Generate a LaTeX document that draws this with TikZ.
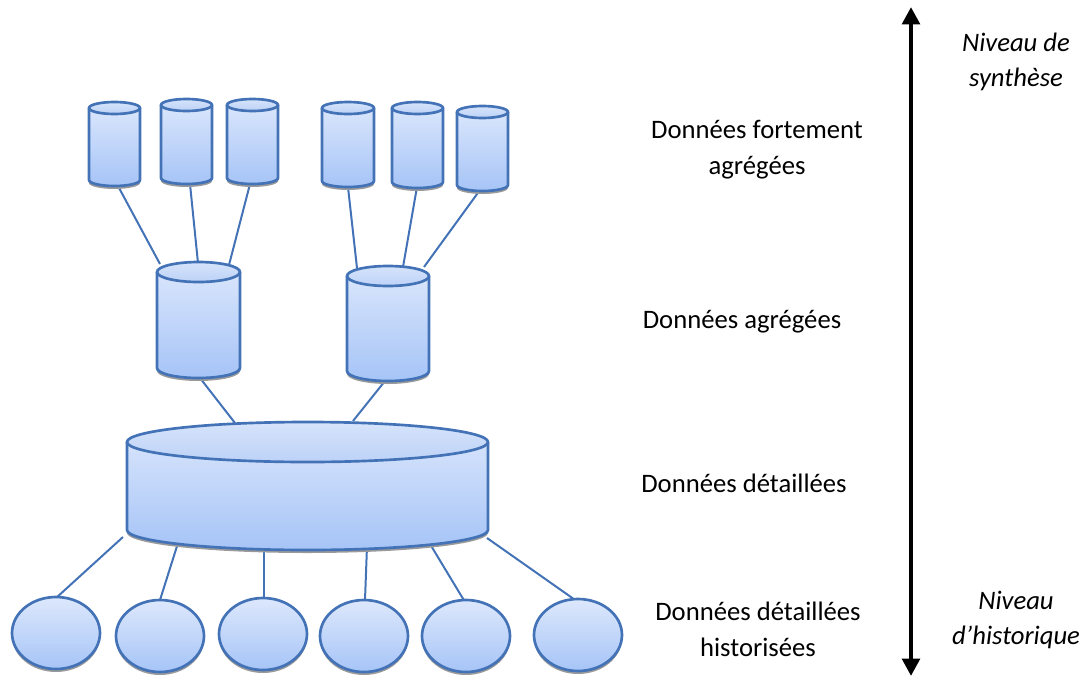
\documentclass[tikz,border=0pt]{standalone}
\usepackage{fontspec}
\setmainfont{Carlito}
\usetikzlibrary{arrows.meta}
\definecolor{dbline}{HTML}{4373B6}
\definecolor{dbtop}{HTML}{DDE8FC}
\definecolor{dbbot}{HTML}{A6C4F7}
\definecolor{dbcap}{HTML}{BCD2F7}
\definecolor{dbshadow}{HTML}{9A9A9A}
\tikzset{
  dbstroke/.style={draw=dbline,line width=2pt},
  conn/.style={draw=dbline,line width=1.5pt},
  lbl/.style={font=\fontsize{20}{27}\selectfont,align=center,inner sep=0pt},
  lvl/.style={font=\fontsize{20}{26}\selectfont\itshape,align=center,inner sep=0pt},
}
% L R ytop-center ybottom ry
\newcommand\dbcyl[5]{%
  \pgfmathsetmacro\rxx{(#2-#1)/2}%
  \fill[dbshadow] (#1,{-#4-3}) arc[start angle=180,end angle=360,x radius=\rxx,y radius=#5] -- (#2,{-#4+2}) -- (#1,{-#4+2}) -- cycle;
  \shade[top color=dbtop,bottom color=dbbot] (#1,-#3) -- (#1,-#4) arc[start angle=180,end angle=360,x radius=\rxx,y radius=#5] -- (#2,-#3) arc[start angle=0,end angle=180,x radius=\rxx,y radius=#5] -- cycle;
  \draw[dbstroke] (#1,-#3) -- (#1,-#4) arc[start angle=180,end angle=360,x radius=\rxx,y radius=#5] -- (#2,-#3);
  \shade[top color=dbtop!80!dbcap,bottom color=dbcap] ({(#1+#2)/2},-#3) ellipse[x radius=\rxx,y radius=#5];
  \draw[dbstroke] ({(#1+#2)/2},-#3) ellipse[x radius=\rxx,y radius=#5];
}
\newcommand\dbdisk[4]{% cx cy rx ry
  \fill[dbshadow] (#1,{-#2-3}) ellipse[x radius=#3,y radius=#4];
  \shade[top color=dbtop,bottom color=dbbot,dbstroke] (#1,-#2) ellipse[x radius=#3,y radius=#4];
}
\begin{document}
\begin{tikzpicture}[x=0.75pt,y=0.75pt]
\useasboundingbox (0,0) rectangle (1083,-679);
% connectors first (behind)
\coordinate (s1b) at (118,-186); \coordinate (s2b) at (190,-184); \coordinate (s3b) at (250,-184);
\coordinate (s4b) at (348,-187); \coordinate (s5b) at (417,-187); \coordinate (s6b) at (480,-190);
\coordinate (m1t1) at (160,-264); \coordinate (m1t2) at (198,-263); \coordinate (m1t3) at (229,-265);
\coordinate (m2t1) at (357,-268); \coordinate (m2t2) at (403,-267); \coordinate (m2t3) at (424,-267);
\coordinate (m1b) at (200,-378); \coordinate (m2b) at (385,-381);
\coordinate (bt1) at (235,-423); \coordinate (bt2) at (353,-421);
\coordinate (bb1) at (123,-537); \coordinate (bb2) at (178,-543); \coordinate (bb3) at (264,-547);
\coordinate (bb4) at (367,-546); \coordinate (bb5) at (430,-544); \coordinate (bb6) at (487,-538);
\coordinate (e1t) at (56,-598); \coordinate (e2t) at (160,-600); \coordinate (e3t) at (264,-598);
\coordinate (e4t) at (365,-600); \coordinate (e5t) at (465,-602); \coordinate (e6t) at (578,-602);
\foreach \a/\b in {s1b/m1t1,s2b/m1t2,s3b/m1t3,s4b/m2t1,s5b/m2t2,s6b/m2t3,m1b/bt1,m2b/bt2,
  bb1/e1t,bb2/e2t,bb3/e3t,bb4/e4t,bb5/e5t,bb6/e6t}
  \draw[conn] (\a) -- (\b);
% small cylinders
\dbcyl{89}{140}{108}{180}{6}
\dbcyl{161}{212}{105}{178}{6}
\dbcyl{227}{278}{105}{178}{6}
\dbcyl{322}{374}{108}{181}{6}
\dbcyl{392}{443}{108}{182}{6}
\dbcyl{457}{508}{112}{185}{6}
% mid cylinders
\dbcyl{157}{240}{272}{368}{10}
\dbcyl{347}{429}{276}{371}{10}
% big cylinder
\dbcyl{127}{488}{442}{530}{20}
% disks
\dbdisk{56}{633}{44}{36}
\dbdisk{160}{636}{44}{36}
\dbdisk{263}{634}{44}{36}
\dbdisk{364}{636}{44}{36}
\dbdisk{466}{636}{44}{36}
\dbdisk{578}{635}{44}{36}
% axis arrow
\coordinate (atop) at (911,-7);
\coordinate (abot) at (911,-676);
\draw[line width=3.6pt,{Triangle[length=13pt,width=13pt]}-{Triangle[length=13pt,width=13pt]}] (atop) -- (abot);
% labels
\node[lbl] (l1) at (757,-150) {Données fortement\\agrégées};
\node[lbl] (l2) at (742,-322) {Données agrégées};
\node[lbl] (l3) at (744,-483) {Données détaillées};
\node[lbl] (l4) at (758,-629) {Données détaillées\\historisées};
\node[lvl] (n1) at (1016,-62) {Niveau de\\synthèse};
\node[lvl] (n2) at (1016,-620) {Niveau\\d’historique};
\end{tikzpicture}
\end{document}
